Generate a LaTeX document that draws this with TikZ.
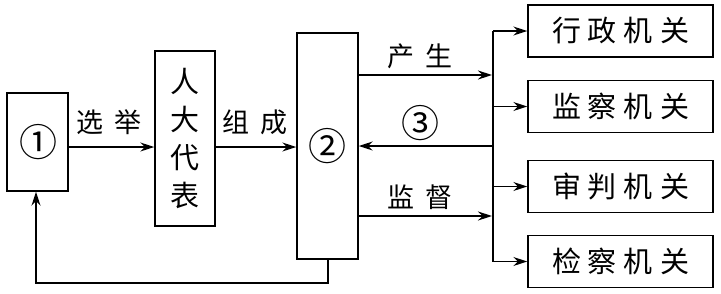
\documentclass[tikz,border=0pt]{standalone}
\usepackage{fontspec}
\newfontfamily\cjk{Noto Sans CJK SC}
\usetikzlibrary{arrows.meta}
\tikzset{
  conn/.style={line width=1.4pt, -{Stealth[length=14pt,width=9pt]}},
  line/.style={line width=1.4pt},
  lbl/.style={font=\cjk\fontsize{27}{30}\selectfont, inner sep=0pt},
  num/.style={font=\cjk\fontsize{38}{38}\selectfont, inner sep=0pt},
  organ/.style={draw, line width=1.4pt, minimum width=185pt, minimum height=52pt, inner sep=0pt,
    font=\cjk\fontsize{29}{30}\selectfont},
  frame/.style={draw, line width=1.4pt, inner sep=0pt},
}
\newcommand{\gapA}{\hspace{7pt}}
\newcommand{\gapB}{\hspace{11pt}}
\begin{document}
\begin{tikzpicture}[x=1pt,y=-1pt]
\useasboundingbox (0,0) rectangle (721,293);
% left boxes
\node[frame, minimum width=61pt, minimum height=98pt] (n1) at (37.5,142) {};
\node[num] (c1) at (38.5,142) {①};
\node[frame, minimum width=60pt, minimum height=175pt, align=center,
  font=\cjk\fontsize{29}{38}\selectfont] (rep) at (185,138.5) {人\\大\\代\\表};
\node[frame, minimum width=61pt, minimum height=226pt] (n2) at (327.5,146) {};
\node[num] (c2) at (327,146) {②};
% right boxes
\node[organ] (b1) at (620.5,31) {行\gapA 政\gapA 机\gapA 关};
\node[organ] (b2) at (620.5,106.5) {监\gapA 察\gapA 机\gapA 关};
\node[organ] (b3) at (620.5,186.5) {审\gapA 判\gapA 机\gapA 关};
\node[organ] (b4) at (620.5,261.5) {检\gapA 察\gapA 机\gapA 关};
% helper coordinates
\coordinate (ya) at (0,147);
\coordinate (yp) at (0,75);
\coordinate (y3) at (0,146);
\coordinate (ys) at (0,216);
\coordinate (bus) at (493,0);
\coordinate (fb) at (0,283);
\coordinate (fx) at (36,0);
\coordinate (fx2) at (328,0);
% main arrows
\draw[conn] (n1.east |- ya) -- (rep.west |- ya);
\draw[conn] (rep.east |- ya) -- (n2.west |- ya);
\node[lbl] (l1) at (109,122) {选\gapB 举};
\node[lbl] (l2) at (255,122) {组\gapB 成};
% bus
\draw[line] (bus |- b1) -- (bus |- b4);
\foreach \b in {b1,b2,b3,b4}{
  \draw[conn] (bus |- \b) -- (\b.west);
}
\draw[conn] (n2.east |- yp) -- ([xshift=-1pt]bus |- yp);
\draw[conn] (bus |- y3) -- (n2.east |- y3);
\draw[conn] (n2.east |- ys) -- ([xshift=-1pt]bus |- ys);
\node[lbl] (l3) at (420,56) {产\gapB 生};
\node[num] (c3) at (420,123) {③};
\node[lbl] (l4) at (420,197) {监\gapB 督};
% feedback
\draw[conn] (fx2 |- n2.south) -- (fx2 |- fb) -- (fx |- fb) -- (fx |- n1.south);
\end{tikzpicture}
\end{document}
